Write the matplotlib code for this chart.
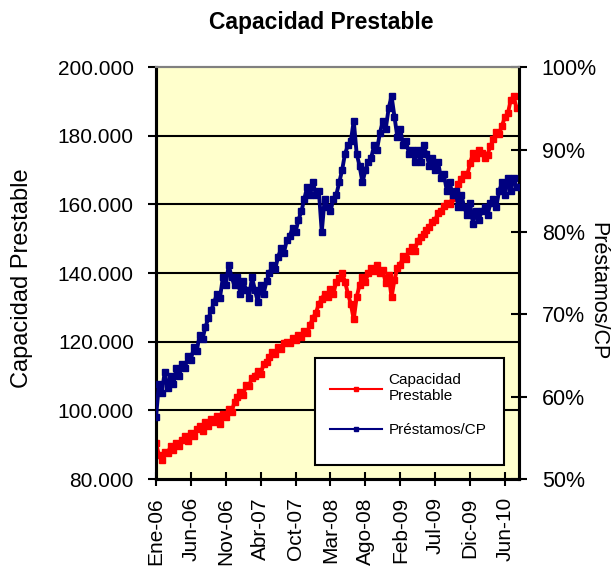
import numpy as np
import matplotlib
matplotlib.use("Agg")
import matplotlib.pyplot as plt
from matplotlib.ticker import FuncFormatter
from matplotlib.patches import Rectangle

plt.rcParams['font.family'] = ['Liberation Sans', 'DejaVu Sans']

tick_labels = ['Ene-06', 'Jun-06', 'Nov-06', 'Abr-07', 'Oct-07', 'Mar-08',
               'Ago-08', 'Feb-09', 'Jul-09', 'Dic-09', 'Jun-10']

# Capacidad Prestable (miles)
capacidad = [
    90.5, 87, 85.5, 88, 87.5, 89.5, 88.5, 90.5, 89.5, 91.5,
    92.5, 91, 93.5, 92.5, 94.5, 95.5, 94, 96.5, 95.5, 97.5,
    96.5, 98.5, 96, 99, 98, 100.5, 99.5, 102.5, 104, 105.5,
    104.5, 107.5, 107, 109.5, 110, 111.5, 110.5, 113.5, 114, 115.5,
    117, 116.5, 118.5, 118, 119.5, 120, 119.5, 121, 120.5, 122,
    121.5, 123, 122.5, 125, 127, 128.5, 131, 132.5, 134, 133,
    135.5, 134, 137.5, 138.5, 140, 137.5, 134, 131, 126.5, 133,
    136.5, 139, 137.5, 140, 141.5, 140.5, 142.5, 140, 141, 137,
    139.5, 133, 138, 141.5, 142.5, 145, 144, 146.5, 147.5, 146.5,
    149.5, 150.5, 151.5, 152.5, 153.5, 155, 155.5, 157.5, 158, 159.5,
    160.5, 160, 162, 163.5, 166, 167.5, 169, 168.5, 172, 175,
    173.5, 176, 175, 173.5, 174.5, 177, 179, 181, 180.5, 183,
    185.5, 186.5, 190.5, 191.5, 188,
]

# Prestamos / CP (%)
prestamos_cp = [
    57.5, 61.5, 60.5, 63, 61, 62.5, 61.5, 63.5, 62.5, 64,
    63.5, 65, 64.5, 66, 65.5, 67.5, 67, 68.5, 69.5, 70.5,
    71.5, 72.5, 72, 74.5, 73.5, 76, 74.5, 73.5, 74.5, 72.5,
    74, 73, 72, 74.5, 73, 71.5, 73.5, 72.5, 74, 75,
    76, 75.5, 77, 78, 77.5, 79, 79.5, 80.5, 80, 81.5,
    82.5, 84, 85.5, 84.5, 86, 84.5, 85, 80, 84, 83,
    82.5, 84, 84.5, 86, 87.5, 89.5, 90.5, 91, 93.5, 89.5,
    88, 86, 87.5, 88.5, 89, 90.5, 90, 92, 93.5, 92.5,
    95, 96.5, 94, 91.5, 92.5, 90.5, 91, 89.5, 90, 88.5,
    90, 88.5, 90.5, 89.5, 88, 89, 87.5, 88.5, 86.5, 87,
    85, 86, 84.5, 85, 83, 84.5, 83, 82, 83.5, 81,
    82.5, 81.5, 82.5, 83, 82, 83.5, 84, 83, 85, 86,
    84.5, 86.5, 85, 86.5, 85.5,
]

left_ticks = [80, 100, 120, 140, 160, 180, 200]
right_ticks = [50, 60, 70, 80, 90, 100]
pts_por_tick = 12

x = np.arange(len(capacidad))
cap_vals = np.array(capacidad) * 1000

fig = plt.figure(figsize=(6.12, 5.69), dpi=100)
ax = fig.add_axes([0.2549, 0.158, 0.593, 0.724])
ax.set_facecolor('#FFFFCC')

for v in left_ticks[1:-1]:
    ax.axhline(v * 1000, color='black', lw=1.5, zorder=1)

l1, = ax.plot(x, cap_vals, color='#FF0000', lw=2.8, marker='s', ms=4.4,
              mec='#FF0000', zorder=3)
ax.set_ylim(80000, 200000)
ax.set_yticks([v * 1000 for v in left_ticks])
ax.yaxis.set_major_formatter(FuncFormatter(lambda v, p: f"{v:,.0f}".replace(',', '.')))
ax.set_xlim(0, len(capacidad) - 0.2)
ax.set_xticks(np.arange(len(tick_labels)) * pts_por_tick)
ax.set_xticklabels(tick_labels, rotation=90, va='top', ha='center')
ax.tick_params(axis='y', direction='out', length=6, width=1.5, pad=10, labelsize=15)
ax.tick_params(axis='x', direction='inout', length=10, width=1.5, pad=8, labelsize=15)
ax.set_ylabel('Capacidad Prestable', fontsize=17, va='center', ha='center')
ax.yaxis.set_label_coords(-0.369, 0.488)

ax2 = ax.twinx()
l2, = ax2.plot(x, prestamos_cp, color='#000080', lw=2.8, marker='s', ms=4.4,
               mec='#000080', zorder=3)
ax2.set_ylim(50, 100)
ax2.set_yticks(right_ticks)
ax2.yaxis.set_major_formatter(FuncFormatter(lambda v, p: f"{v:.0f}%"))
ax2.tick_params(axis='y', direction='inout', length=11, width=1.5, pad=11, labelsize=15.5)
ax2.set_ylabel('Préstamos/CP', fontsize=15.5, rotation=270, va='center', ha='center')
ax2.yaxis.set_label_coords(1.218, 0.456)

for a in (ax, ax2):
    for s in ('left', 'right', 'bottom'):
        a.spines[s].set_linewidth(2.2)
        a.spines[s].set_color('black')
    a.spines['top'].set_color('#808080')
    a.spines['top'].set_linewidth(1.5)

# marco de la leyenda
caja = Rectangle((315 / 612, 1 - 465 / 569), 189 / 612, 107 / 569,
                 transform=fig.transFigure, facecolor='white',
                 edgecolor='black', lw=1.5, zorder=4)
ax2.add_patch(caja)

l1_leg, = ax2.plot([], [], color='#FF0000', lw=1.5, marker='s', ms=2.5)
l2_leg, = ax2.plot([], [], color='#000080', lw=1.5, marker='s', ms=2.5)
leg = ax2.legend(handles=[l1_leg, l2_leg],
                 labels=['Capacidad\nPrestable', 'Préstamos/CP'],
                 loc='upper left',
                 bbox_to_anchor=(315 / 612, 1 - 358 / 569),
                 bbox_transform=fig.transFigure, borderaxespad=0,
                 fontsize=11, frameon=False, handlelength=3.4,
                 handletextpad=0.4, borderpad=1.0, labelspacing=1.3)
leg.set_zorder(5)

fig.text(0.525, 0.961, 'Capacidad Prestable', ha='center', va='center',
         fontsize=16.5, fontweight='bold')

fig.savefig('out.png', dpi=100)
